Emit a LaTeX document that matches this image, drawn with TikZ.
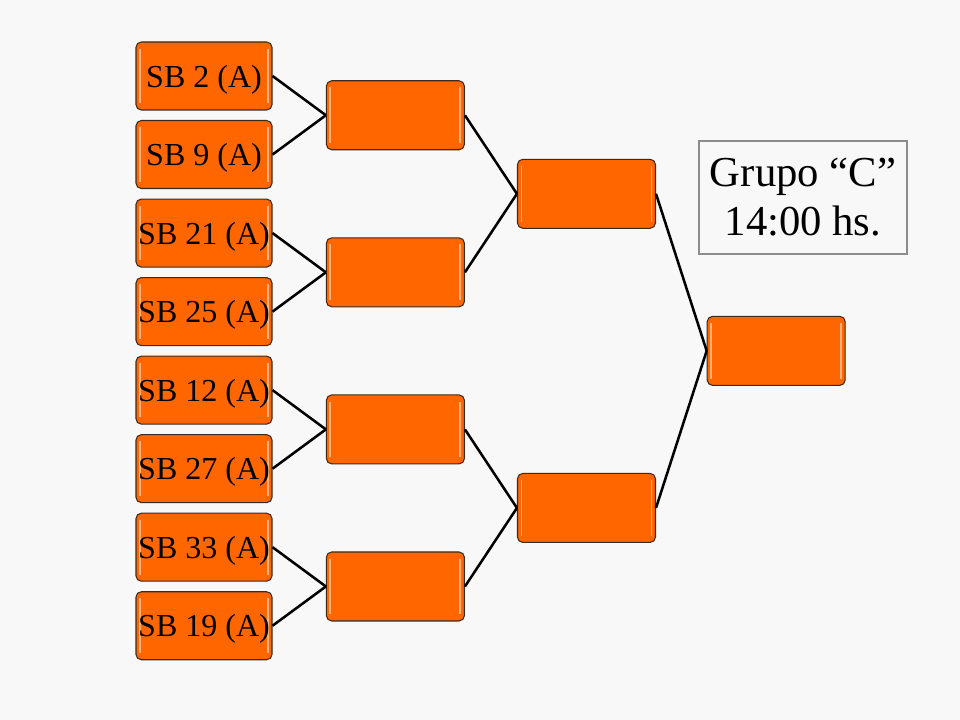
\documentclass[tikz,border=0pt]{standalone}
\usepackage{fontspec}
\setmainfont{Liberation Serif}
\usetikzlibrary{positioning,calc}
\definecolor{seedorange}{HTML}{FF6600}
\definecolor{seededge}{HTML}{3C2A1C}
\definecolor{seedglow}{HTML}{FFB27A}
\definecolor{slidebg}{HTML}{F8F8F8}
\definecolor{notegray}{HTML}{8C8C8C}

\begin{document}
\begin{tikzpicture}[
    node distance=7.1pt and 40pt,
    box/.style={draw=seededge, line width=0.8pt, fill=seedorange, rounded corners=4pt, inner sep=0pt,
        minimum width=102pt, minimum height=51pt, text depth=0pt, font=\fontsize{24}{28}\selectfont,
        path picture={
            \draw[seedglow, line width=1.4pt] ([xshift=3pt,yshift=-5pt]path picture bounding box.north west) -- ([xshift=3pt,yshift=5pt]path picture bounding box.south west);
            \draw[seedglow, line width=1.4pt] ([xshift=-3pt,yshift=-5pt]path picture bounding box.north east) -- ([xshift=-3pt,yshift=5pt]path picture bounding box.south east);}},
    match/.style={box, minimum width=103.5pt, minimum height=51.75pt},
    note/.style={draw=notegray, line width=0.9pt, fill=slidebg, align=center, minimum width=156pt, minimum height=84.75pt, font=\fontsize{32}{36.75}\selectfont},
    link/.style={line width=1.9pt, black}]
    \useasboundingbox[fill=slidebg] (0,0) rectangle (720pt,-540pt);
    % first round
    \node[box] (sb2) at (153pt,-57pt) {SB 2 (A)};
    \node[box, below=of sb2] (sb9) {SB 9 (A)};
    \node[box, below=of sb9] (sb21) {SB 21 (A)};
    \node[box, below=of sb21] (sb25) {SB 25 (A)};
    \node[box, below=of sb25] (sb12) {SB 12 (A)};
    \node[box, below=of sb12] (sb27) {SB 27 (A)};
    \node[box, below=of sb27] (sb33) {SB 33 (A)};
    \node[box, below=of sb33] (sb19) {SB 19 (A)};
    % second round
    \coordinate (m1) at ($(sb2.east)!0.5!(sb9.east)$);
    \coordinate (m2) at ($(sb21.east)!0.5!(sb25.east)$);
    \coordinate (m3) at ($(sb12.east)!0.5!(sb27.east)$);
    \coordinate (m4) at ($(sb33.east)!0.5!(sb19.east)$);
    \node[match, right=40pt of m1] (q1) {};
    \node[match, right=40pt of m2] (q2) {};
    \node[match, right=40pt of m3] (q3) {};
    \node[match, right=40pt of m4] (q4) {};
    % semis and final
    \coordinate (s1) at ($(q1.east)!0.5!(q2.east)$);
    \coordinate (s2) at ($(q3.east)!0.5!(q4.east)$);
    \node[match, right=39pt of s1] (semi1) {};
    \node[match, right=39pt of s2] (semi2) {};
    \coordinate (f1) at ($(semi1.east)!0.5!(semi2.east)$);
    \node[match, right=38pt of f1] (final) {};
    \node[note] (grupo) at (602.25pt,-148.1pt) {Grupo “C”\\14:00 hs.};
    \draw[link] (sb2.east) -- (q1.west); \draw[link] (sb9.east) -- (q1.west);
    \draw[link] (sb21.east) -- (q2.west); \draw[link] (sb25.east) -- (q2.west);
    \draw[link] (sb12.east) -- (q3.west); \draw[link] (sb27.east) -- (q3.west);
    \draw[link] (sb33.east) -- (q4.west); \draw[link] (sb19.east) -- (q4.west);
    \draw[link] (q1.east) -- (semi1.west); \draw[link] (q2.east) -- (semi1.west);
    \draw[link] (q3.east) -- (semi2.west); \draw[link] (q4.east) -- (semi2.west);
    \draw[link] (semi1.east) -- (final.west); \draw[link] (semi2.east) -- (final.west);
\end{tikzpicture}
\end{document}
